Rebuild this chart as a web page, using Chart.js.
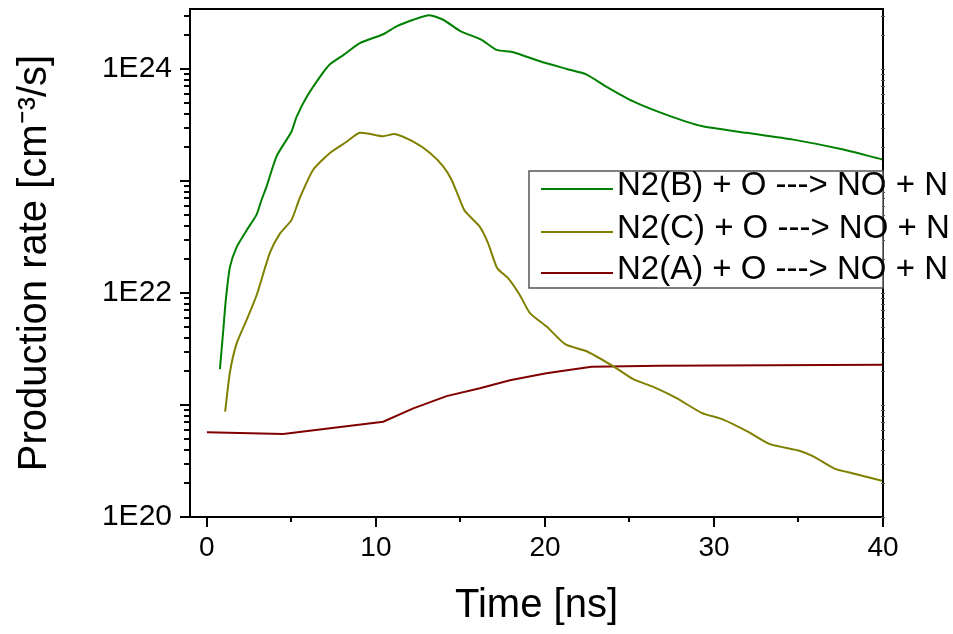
<!DOCTYPE html>
<html><head><meta charset="utf-8">
<script src="https://cdn.jsdelivr.net/npm/chart.js@4.4.1/dist/chart.umd.min.js"></script>
<style>html,body{margin:0;padding:0;background:#fff;}#wrap{width:953px;height:634px;}</style>
</head><body><div id="wrap"><canvas id="c" width="953" height="634"></canvas></div>
<script>
// ---- data ----
const seriesLabels = ['N2(B) + O ---> NO + N', 'N2(C) + O ---> NO + N', 'N2(A) + O ---> NO + N'];
const seriesColors = ['#008000', '#808000', '#800000'];

const timeB = [0.77, 0.97, 1.12, 1.36, 1.76, 2.35, 2.94, 3.23, 3.53, 4.12, 5.0, 5.3, 5.9, 6.69, 7.28, 8.07, 9.05, 10.43, 11.22, 12.21, 13.16, 13.98, 14.97, 16.25, 17.14, 18.13, 19.7, 21.28, 22.47, 23.65, 25.22, 27.2, 29.27, 31.93, 34.69, 37.65, 40.0];
const rateB = [2.09e21, 4.68e21, 8.71e21, 1.70e22, 2.57e22, 3.63e22, 5.01e22, 6.76e22, 8.91e22, 1.66e23, 2.75e23, 3.72e23, 5.62e23, 8.51e23, 1.10e24, 1.33e24, 1.70e24, 2.04e24, 2.40e24, 2.75e24, 3.02e24, 2.75e24, 2.19e24, 1.82e24, 1.48e24, 1.41e24, 1.17e24, 1.00e24, 8.91e23, 6.92e23, 5.13e23, 3.89e23, 3.09e23, 2.69e23, 2.34e23, 1.91e23, 1.55e23];

const timeC = [1.08, 1.36, 1.76, 2.35, 2.94, 3.73, 4.32, 5.0, 5.5, 6.29, 7.28, 8.27, 9.05, 10.43, 11.12, 12.21, 13.2, 13.98, 14.48, 14.97, 15.27, 16.15, 16.65, 17.18, 17.83, 18.52, 19.11, 20.1, 21.22, 22.47, 24.1, 25.22, 26.41, 27.79, 29.27, 30.55, 32.03, 33.31, 35.09, 35.88, 37.16, 38.24, 40.0];
const rateC = [8.71e20, 1.95e21, 3.55e21, 5.75e21, 9.55e21, 2.29e22, 3.39e22, 4.47e22, 7.08e22, 1.26e23, 1.78e23, 2.24e23, 2.69e23, 2.51e23, 2.63e23, 2.24e23, 1.78e23, 1.35e23, 1.02e23, 6.76e22, 5.37e22, 3.89e22, 2.75e22, 1.66e22, 1.35e22, 9.55e21, 6.61e21, 5.01e21, 3.47e21, 3.02e21, 2.19e21, 1.70e21, 1.45e21, 1.15e21, 8.51e20, 7.41e20, 5.75e20, 4.47e20, 3.89e20, 3.47e20, 2.69e20, 2.45e20, 2.09e20];

const timeA = [0, 4.51, 10.43, 12.21, 14.18, 16.15, 17.93, 20.0, 20.89, 22.76, 26.8, 40.0];
const rateA = [5.70e20, 5.50e20, 7.08e20, 9.33e20, 1.20e21, 1.41e21, 1.66e21, 1.91e21, 2.00e21, 2.19e21, 2.24e21, 2.29e21];

const xMajorTicks = [0, 10, 20, 30, 40];
const xMinorTicks = [5, 15, 25, 35];
const xTickLabels = ['0', '10', '20', '30', '40'];
const yDecadeTicks = [1e20, 1e21, 1e22, 1e23, 1e24];
const yLabeledTicks = [1e20, 1e22, 1e24];
const yTickLabels = ['1E20', '1E22', '1E24'];
const xRange = [-1, 40];
const yRange = [1e20, 3.43e24];
const xTitle = 'Time [ns]';
const yTitle = 'Production rate [cm\u207B\u00B3/s]';

// ---- build ----
function pts(xs, ys) { return xs.map((x, i) => ({x: x, y: ys[i]})); }
const yMinorTicks = [];
yDecadeTicks.forEach(d => { for (let m = 2; m <= 9; m++) { const v = d * m; if (v < yRange[1]) yMinorTicks.push(v); } });

const FONT = "'Liberation Sans', Arial, sans-serif";

const frameAndTicks = {
  id: 'frameAndTicks',
  afterDraw(chart) {
    const ctx = chart.ctx, a = chart.chartArea;
    const xs = chart.scales.x, ys = chart.scales.y;
    ctx.save();
    ctx.strokeStyle = '#000';
    ctx.lineWidth = 2;
    ctx.beginPath();
    xMajorTicks.forEach(v => { const p = Math.round(xs.getPixelForValue(v)); ctx.moveTo(p, a.bottom); ctx.lineTo(p, a.bottom + 10); });
    xMinorTicks.forEach(v => { const p = Math.round(xs.getPixelForValue(v)); ctx.moveTo(p, a.bottom); ctx.lineTo(p, a.bottom + 5); });
    yDecadeTicks.forEach(v => { const p = Math.round(ys.getPixelForValue(v)); ctx.moveTo(a.left, p); ctx.lineTo(a.left - 10, p); });
    yMinorTicks.forEach(v => { const p = Math.round(ys.getPixelForValue(v)); ctx.moveTo(a.left, p); ctx.lineTo(a.left - 6, p); });
    ctx.stroke();
    ctx.strokeRect(a.left, a.top, a.right - a.left, a.bottom - a.top);
    ctx.lineWidth = 1;
    ctx.strokeStyle = '#555';
    ctx.beginPath();
    yDecadeTicks.concat(yMinorTicks).forEach(v => { const p = Math.round(ys.getPixelForValue(v)) + 0.5; ctx.moveTo(a.right - 2, p); ctx.lineTo(a.right + 2, p); });
    ctx.stroke();
    // legend
    const bx = 529, by = 171, bw = 354, bh = 117;
    ctx.fillStyle = '#fff';
    ctx.fillRect(bx, by, bw, bh);
    ctx.strokeStyle = '#555';
    ctx.lineWidth = 1.5;
    ctx.strokeRect(bx, by, bw, bh);
    const rows = [186, 229, 270];
    ctx.font = '33px ' + FONT;
    ctx.textBaseline = 'middle';
    ctx.textAlign = 'left';
    chart.data.datasets.forEach((ds, i) => {
      ctx.strokeStyle = ds.borderColor;
      ctx.lineWidth = 2;
      ctx.beginPath();
      ctx.moveTo(541, rows[i] + 3);
      ctx.lineTo(613, rows[i] + 3);
      ctx.stroke();
      ctx.fillStyle = '#000';
      ctx.fillText(ds.label, 617, rows[i]);
    });
    ctx.restore();
  }
};

new Chart(document.getElementById('c'), {
  type: 'line',
  data: {
    datasets: [
      {label: seriesLabels[0], data: pts(timeB, rateB), borderColor: seriesColors[0]},
      {label: seriesLabels[1], data: pts(timeC, rateC), borderColor: seriesColors[1]},
      {label: seriesLabels[2], data: pts(timeA, rateA), borderColor: seriesColors[2], tension: 0}
    ]
  },
  options: {
    responsive: false,
    animation: false,
    devicePixelRatio: 1,
    parsing: false,
    layout: {padding: {left: 11, top: 9, right: 70, bottom: 0}},
    elements: {
      point: {radius: 0},
      line: {borderWidth: 2, tension: 0.2, fill: false}
    },
    plugins: {legend: {display: false}, tooltip: {enabled: false}},
    scales: {
      x: {
        type: 'linear', min: xRange[0], max: xRange[1],
        afterFit(s) { s.height = 117; s.paddingLeft = 0; s.paddingRight = 0; },
        afterBuildTicks(s) { s.ticks = xMajorTicks.map(v => ({value: v})); },
        grid: {display: false, drawTicks: true, tickLength: 10},
        border: {display: false},
        ticks: {
          color: '#000', padding: 4, maxRotation: 0, autoSkip: false,
          font: {family: FONT, size: 28},
          callback(v) { const i = xMajorTicks.indexOf(v); return i >= 0 ? xTickLabels[i] : ''; }
        },
        title: {display: true, text: xTitle, color: '#000', font: {family: FONT, size: 40}, padding: {top: 0, bottom: 4}}
      },
      y: {
        type: 'logarithmic', min: yRange[0], max: yRange[1],
        afterFit(s) { s.width = 179; s.paddingTop = 0; s.paddingBottom = 0; },
        afterBuildTicks(s) { s.ticks = yLabeledTicks.map(v => ({value: v})); },
        grid: {display: false, drawTicks: true, tickLength: 10},
        border: {display: false},
        ticks: {
          color: '#000', padding: 8, autoSkip: false,
          font: {family: FONT, size: 30},
          callback(v) { const i = yLabeledTicks.indexOf(v); return i >= 0 ? yTickLabels[i] : ''; }
        },
        title: {display: true, text: yTitle, color: '#000', font: {family: FONT, size: 40}, padding: {top: 0, bottom: 0}}
      }
    }
  },
  plugins: [frameAndTicks]
});
</script>
</body></html>
